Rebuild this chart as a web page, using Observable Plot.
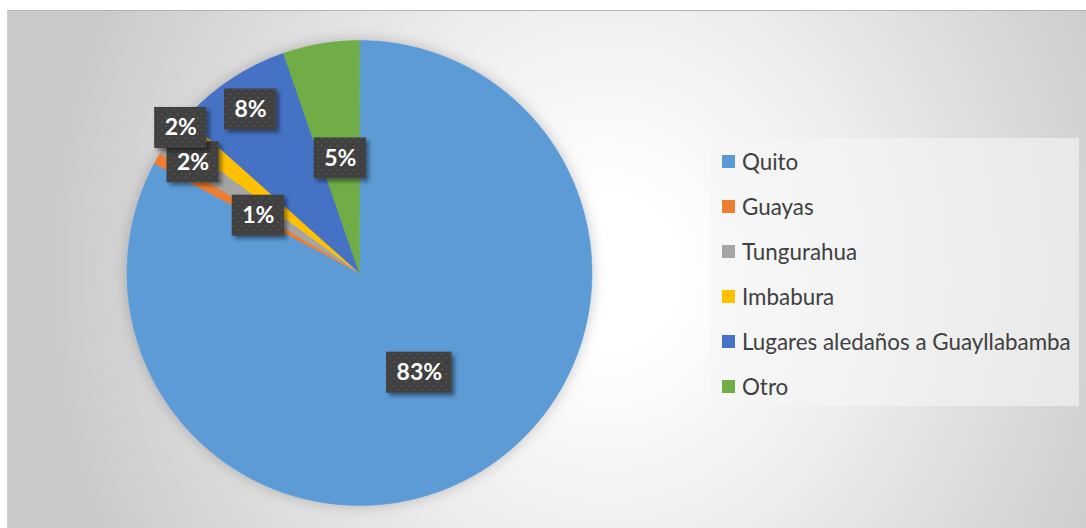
<!DOCTYPE html>
<html><head><meta charset="utf-8">
<script src="https://cdn.jsdelivr.net/npm/d3@7"></script>
<script src="https://cdn.jsdelivr.net/npm/@observablehq/plot@0.6"></script>
<style>
html,body{margin:0;padding:0;background:#fff;}
#wrap{position:relative;width:1086px;height:528px;overflow:hidden;}
#area{position:absolute;left:7px;top:10px;width:1079px;height:518px;box-sizing:border-box;
  border-top:1px solid #b4b4b4;border-left:1px solid #cfcfcf;
  background:radial-gradient(ellipse 560px 620px at 600px 262px,#ffffff 0%,#ffffff 12%,#eeeeee 45%,#cacaca 100%);}
#chart{position:absolute;left:0;top:0;}
#legend{position:absolute;left:710px;top:138px;width:369px;height:268px;background:rgba(246,246,246,0.62);
  font-family:Lato,"Open Sans",sans-serif;color:#404040;}
.row{position:absolute;left:12px;display:flex;align-items:center;white-space:nowrap;}
.sw{width:13px;height:13px;margin-right:7px;flex:none;}
</style></head>
<body><div id="wrap"><div id="area"></div><div id="legend"></div></div>
<script>
// ---- data ----
const names = ["Quito", "Guayas", "Tungurahua", "Imbabura", "Lugares aledaños a Guayllabamba", "Otro"];
const values = [82.8, 0.8, 1.5, 1.5, 8.1, 5.3];
const colors = ["#5B9BD5", "#ED7D31", "#A5A5A5", "#FFC000", "#4472C4", "#70AD47"];
// layout: label distance from centre (fraction of radius), like Excel's best-fit placement
const labelRadius = [0.5, 0.5, 0.86, 0.99, 0.845, 0.5];

const cx = 359, cy = 272.5, R = 232.5;

const arcs = d3.pie().sort(null).value(d => d.value)(names.map((n, i) => ({name: n, value: values[i]})));

const slicePts = [];
arcs.forEach(a => {
  slicePts.push({name: a.data.name, x: 0, y: 0});
  const n = Math.max(2, Math.ceil((a.endAngle - a.startAngle) / 0.004));
  for (let k = 0; k <= n; k++) {
    const t = a.startAngle + (a.endAngle - a.startAngle) * k / n;
    slicePts.push({name: a.data.name, x: Math.sin(t), y: Math.cos(t)});
  }
});

const labels = arcs.map((a, i) => {
  const m = (a.startAngle + a.endAngle) / 2, r = labelRadius[i];
  return {name: a.data.name, x: r * Math.sin(m), y: r * Math.cos(m), text: Math.round(a.data.value) + "%"};
});

// font fitting helper
const ctx = document.createElement("canvas").getContext("2d");
function fit(text, weight, family, target) {
  ctx.font = `${weight} 100px ${family}`;
  return 100 * target / ctx.measureText(text).width;
}
const labelFont = "Lato";
const labelSize = 23;
const legendSize = fit("Lugares aledaños a Guayllabamba", "normal", "Lato", 329);

const plot = Plot.plot({
  width: 1086, height: 528, margin: 0,
  x: {domain: [-1, 1], range: [cx - R, cx + R], axis: null},
  y: {domain: [-1, 1], range: [cy + R, cy - R], axis: null},
  color: {domain: names, range: colors},
  style: {background: "transparent", overflow: "visible"},
  marks: [
    Plot.line(slicePts, {x: "x", y: "y", z: "name", fill: "name", stroke: "name", strokeWidth: 0.6, curve: "linear-closed"}),
    Plot.text(labels, {x: "x", y: "y", text: "text", fill: "white", fontWeight: "bold", fontSize: labelSize, fontFamily: labelFont})
  ]
});
plot.id = "chart";
document.getElementById("wrap").insertBefore(plot, document.getElementById("legend"));

// defs: dotted pattern + shadows
const svg = d3.select(plot);
const defs = svg.insert("defs", ":first-child");
const pat = defs.append("pattern").attr("id", "dots").attr("patternUnits", "userSpaceOnUse").attr("width", 8).attr("height", 8);
pat.append("rect").attr("width", 8).attr("height", 8).attr("fill", "#3f3f3f");
pat.append("circle").attr("cx", 2).attr("cy", 2).attr("r", 0.9).attr("fill", "#565656");
pat.append("circle").attr("cx", 6).attr("cy", 6).attr("r", 0.9).attr("fill", "#565656");
const f = defs.append("filter").attr("id", "boxShadow").attr("x", "-30%").attr("y", "-30%").attr("width", "160%").attr("height", "160%");
f.append("feDropShadow").attr("dx", 3).attr("dy", 3).attr("stdDeviation", 2).attr("flood-color", "#000").attr("flood-opacity", 0.45);
const f2 = defs.append("filter").attr("id", "pieShadow").attr("x", "-20%").attr("y", "-20%").attr("width", "140%").attr("height", "140%");
f2.append("feDropShadow").attr("dx", 0).attr("dy", 0).attr("stdDeviation", 7).attr("flood-color", "#000").attr("flood-opacity", 0.22);

svg.select('g[aria-label="line"]').attr("filter", "url(#pieShadow)");

// label boxes behind the texts, positioned through the plot's scales
const sx = plot.scale("x"), sy = plot.scale("y");
const texts = svg.select('g[aria-label="text"]').selectAll("text").nodes();
const boxG = svg.insert("g", 'g[aria-label="text"]');
texts.forEach((t, i) => {
  const w = t.getBBox().width + 20, h = 41;
  const px = sx.apply(labels[i].x), py = sy.apply(labels[i].y);
  boxG.append("rect").attr("x", px - w / 2).attr("y", py - h / 2).attr("width", w).attr("height", h)
    .attr("fill", "url(#dots)").attr("filter", "url(#boxShadow)");
});

// legend
const leg = d3.select("#legend");
names.forEach((n, i) => {
  const row = leg.append("div").attr("class", "row").style("top", (23 + 45 * i - 14) + "px").style("height", "28px")
    .style("font-size", legendSize + "px");
  row.append("div").attr("class", "sw").style("background", colors[i]);
  row.append("span").text(n);
});
</script>
</body></html>
